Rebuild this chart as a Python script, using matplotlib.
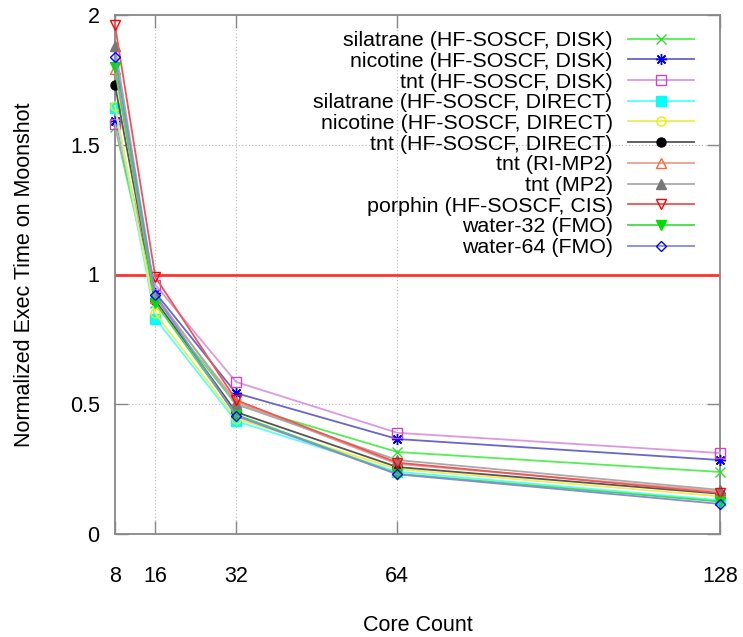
import matplotlib
matplotlib.use("Agg")
import matplotlib.pyplot as plt

plt.rcParams['font.family'] = ['Liberation Sans', 'DejaVu Sans']

cores = [8, 16, 32, 64, 128]

labels = [
    "silatrane (HF-SOSCF, DISK)",
    "nicotine (HF-SOSCF, DISK)",
    "tnt (HF-SOSCF, DISK)",
    "silatrane (HF-SOSCF, DIRECT)",
    "nicotine (HF-SOSCF, DIRECT)",
    "tnt (HF-SOSCF, DIRECT)",
    "tnt (RI-MP2)",
    "tnt (MP2)",
    "porphin (HF-SOSCF, CIS)",
    "water-32 (FMO)",
    "water-64 (FMO)",
]

silatrane_disk   = [1.57, 0.89, 0.50, 0.316, 0.239]
nicotine_disk    = [1.59, 0.93, 0.543, 0.366, 0.285]
tnt_disk         = [1.58, 0.96, 0.586, 0.390, 0.312]
silatrane_direct = [1.64, 0.83, 0.435, 0.240, 0.130]
nicotine_direct  = [1.65, 0.85, 0.445, 0.250, 0.145]
tnt_direct       = [1.73, 0.90, 0.470, 0.258, 0.155]
tnt_rimp2        = [1.79, 0.91, 0.510, 0.270, 0.165]
tnt_mp2          = [1.88, 0.92, 0.500, 0.285, 0.170]
porphin_cis      = [1.96, 0.99, 0.516, 0.275, 0.158]
water32_fmo      = [1.80, 0.89, 0.460, 0.232, 0.125]
water64_fmo      = [1.84, 0.92, 0.455, 0.230, 0.116]

series = [silatrane_disk, nicotine_disk, tnt_disk, silatrane_direct,
          nicotine_direct, tnt_direct, tnt_rimp2, tnt_mp2, porphin_cis,
          water32_fmo, water64_fmo]

# marker, marker colour, line colour, filled
styles = [
    ("x", "#33dd33", "#55ee55", False),
    ((8, 2, 0), "#0000ff", "#6666cc", False),
    ("s", "#cc44cc", "#dd99dd", False),
    ("s", "#00ffff", "#55ffff", True),
    ("o", "#eeee00", "#eeee55", False),
    ("o", "#000000", "#555555", True),
    ("^", "#ff6633", "#e8a090", False),
    ("^", "#777777", "#aaaaaa", True),
    ("v", "#ff0000", "#ee5555", False),
    ("v", "#00dd00", "#44dd44", True),
    ("D", "#0000ff", "#8888dd", False),
]

fig = plt.figure(figsize=(7.43, 6.37), dpi=100)
ax = fig.add_axes([115/743, 1 - 534/637, 605/743, 519/637])

for vals, lab, (mk, mc, lc, filled) in zip(series, labels, styles):
    ms = 6.5
    if mk == "D":
        ms = 5
    elif mk == (8, 2, 0):
        ms = 8
    ax.plot(cores, vals, color=lc, lw=1.3, marker=mk, ms=ms,
            markeredgecolor=mc, markerfacecolor=mc if filled else "none",
            markeredgewidth=1.0, label=lab, clip_on=False, zorder=3)

ax.axhline(1.0, color="#ff3333", lw=2.0, zorder=2)

ax.set_xlim(8, 128)
ax.set_ylim(0, 2)
ax.set_xticks(cores)
ax.set_xticklabels([str(c) for c in cores])
ax.set_yticks([0, 0.5, 1, 1.5, 2])
ax.set_yticklabels(["0", "0.5", "1", "1.5", "2"])

for x in [16, 32, 64]:
    ax.axvline(x, color="#bbbbbb", lw=0.8, ls=(0, (1, 2)), zorder=1)
for y in [0.5, 1.5]:
    ax.axhline(y, color="#bbbbbb", lw=0.8, ls=(0, (1, 2)), zorder=1)

for sp in ax.spines.values():
    sp.set_color("#888888")
    sp.set_linewidth(1.3)

ax.tick_params(axis="both", direction="in", length=9.5, width=1.0,
               color="#888888", labelsize=15.5, top=True, right=True)
ax.tick_params(axis="x", pad=23)
ax.tick_params(axis="y", pad=11)

ax.set_xlabel("Core Count", fontsize=15.5, labelpad=20)
ax.set_ylabel("Normalized Exec Time on Moonshot", fontsize=15.5, labelpad=25)

leg = ax.legend(loc="upper right", bbox_to_anchor=(0.957, 0.969),
                frameon=False, markerfirst=False, fontsize=15.4,
                handlelength=3.1, handletextpad=0.7, labelspacing=0.08,
                borderpad=0, borderaxespad=0, numpoints=1)

fig.savefig("out.png", dpi=100)
